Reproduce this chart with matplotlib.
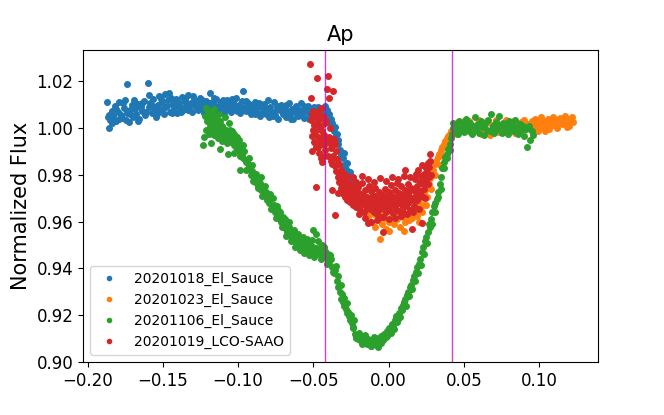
import matplotlib
matplotlib.use('Agg')
import matplotlib.pyplot as plt

# 20201018_El_Sauce
blue_x = [-0.1870, -0.1865, -0.1860, -0.1850, -0.1840, -0.1830, -0.1820, -0.1810, -0.1800, -0.1790,
          -0.1780, -0.1770, -0.1760, -0.1750, -0.1740, -0.1735, -0.1725, -0.1715, -0.1705, -0.1695,
          -0.1685, -0.1675, -0.1665, -0.1655, -0.1645, -0.1635, -0.1625, -0.1615, -0.1600, -0.1595,
          -0.1585, -0.1575, -0.1565, -0.1555, -0.1545, -0.1535, -0.1525, -0.1515, -0.1505, -0.1495,
          -0.1485, -0.1475, -0.1465, -0.1455, -0.1445, -0.1435, -0.1425, -0.1415, -0.1405, -0.1395,
          -0.1385, -0.1375, -0.1365, -0.1355, -0.1345, -0.1335, -0.1325, -0.1315, -0.1305, -0.1295,
          -0.1285, -0.1275, -0.1265, -0.1255, -0.1245, -0.1235, -0.1225, -0.1215, -0.1205, -0.1185,
          -0.1175, -0.1165, -0.1155, -0.1145, -0.1135, -0.1125, -0.1115, -0.1105, -0.1095, -0.1085,
          -0.1075, -0.1065, -0.1055, -0.1045, -0.1035, -0.1025, -0.1015, -0.1005, -0.0995, -0.0985,
          -0.0975, -0.0965, -0.0955, -0.0945, -0.0935, -0.0925, -0.0915, -0.0905, -0.0895, -0.0885,
          -0.0875, -0.0865, -0.0855, -0.0845, -0.0835, -0.0825, -0.0815, -0.0805, -0.0795, -0.0785,
          -0.0775, -0.0765, -0.0755, -0.0745, -0.0735, -0.0725, -0.0715, -0.0705, -0.0695, -0.0685,
          -0.0675, -0.0665, -0.0655, -0.0645, -0.0635, -0.0625, -0.0615, -0.0605, -0.0595, -0.0585,
          -0.0575, -0.0565, -0.0555, -0.0545, -0.0535, -0.0525, -0.0515, -0.0505, -0.0495, -0.0485,
          -0.0475, -0.0465, -0.0455, -0.0445, -0.0435, -0.0425, -0.0415, -0.0405, -0.0395, -0.0385,
          -0.0375, -0.0365, -0.0355, -0.0345, -0.0335, -0.0325, -0.0315, -0.0305, -0.0295, -0.0285,
          -0.0275, -0.0265, -0.0255, -0.0245, -0.0235, -0.0225, -0.0210, -0.0195, -0.0180, -0.0165,
          -0.0150, -0.0135, -0.0120, -0.0105, -0.0090, -0.0075, -0.0060, -0.0045, -0.0030,
          -0.1858, -0.1835, -0.1812, -0.1788, -0.1765, -0.1742, -0.1718, -0.1690, -0.1668, -0.1640,
          -0.1612, -0.1590, -0.1562, -0.1540, -0.1512, -0.1490, -0.1462, -0.1440, -0.1410, -0.1380,
          -0.1352, -0.1330, -0.1300, -0.1270, -0.1240, -0.1212, -0.1190, -0.1160, -0.1130, -0.1100,
          -0.1070, -0.1040, -0.1010, -0.0980, -0.0950, -0.0920, -0.0890, -0.0860, -0.0830, -0.0800,
          -0.0770, -0.0740, -0.0710, -0.0680, -0.0650, -0.0620, -0.0590, -0.0560, -0.0530, -0.0500,
          -0.0470, -0.0440, -0.0410, -0.0380, -0.0360, -0.0340, -0.0320, -0.0300, -0.0280, -0.0260,
          -0.0240]
blue_y = [1.0112, 1.0048, 0.9998, 1.0035, 1.0072, 1.0050, 1.0095, 1.0030, 1.0068, 1.0110,
          1.0055, 1.0042, 1.0085, 1.0120, 1.0063, 1.0186, 1.0027, 1.0075, 1.0098, 1.0045,
          1.0081, 1.0060, 1.0102, 1.0037, 1.0090, 1.0072, 1.0115, 1.0055, 1.0194, 1.0088,
          1.0106, 1.0064, 1.0125, 1.0082, 1.0046, 1.0098, 1.0135, 1.0077, 1.0110, 1.0058,
          1.0144, 1.0092, 1.0118, 1.0070, 1.0130, 1.0101, 1.0085, 1.0122, 1.0063, 1.0108,
          1.0090, 1.0132, 1.0076, 1.0115, 1.0097, 1.0140, 1.0082, 1.0105, 1.0068, 1.0120,
          1.0093, 1.0111, 1.0075, 1.0128, 1.0086, 1.0102, 1.0064, 1.0117, 1.0090, 1.0150,
          1.0083, 1.0108, 1.0070, 1.0124, 1.0095, 1.0078, 1.0112, 1.0088, 1.0065, 1.0103,
          1.0121, 1.0080, 1.0096, 1.0070, 1.0110, 1.0085, 1.0127, 1.0074, 1.0098, 1.0062,
          1.0114, 1.0160, 1.0088, 1.0071, 1.0105, 1.0083, 1.0058, 1.0097, 1.0076, 1.0110,
          1.0064, 1.0088, 1.0050, 1.0095, 1.0072, 1.0104, 1.0061, 1.0083, 1.0045, 1.0090,
          1.0068, 1.0112, 1.0057, 1.0080, 1.0040, 1.0077, 1.0098, 1.0060, 1.0085, 1.0047,
          1.0072, 1.0108, 1.0058, 1.0081, 1.0038, 1.0070, 1.0092, 1.0052, 1.0076, 1.0105,
          1.0062, 1.0044, 1.0083, 1.0067, 1.0094, 1.0055, 1.0075, 1.0060, 1.0088, 1.0050,
          1.0072, 1.0063, 1.0080, 1.0048, 1.0068, 1.0095, 1.0052, 1.0030, 1.0058, 1.0010,
          1.0022, 0.9985, 0.9960, 0.9975, 0.9932, 0.9905, 0.9890, 0.9870, 0.9842, 0.9825,
          0.9808, 0.9790, 0.9772, 0.9760, 0.9748, 0.9735, 0.9722, 0.9710, 0.9705, 0.9692,
          0.9698, 0.9685, 0.9690, 0.9680, 0.9688, 0.9676, 0.9684, 0.9672, 0.9680,
          1.0055, 1.0020, 1.0082, 1.0040, 1.0105, 1.0035, 1.0060, 1.0120, 1.0030, 1.0108,
          1.0068, 1.0140, 1.0095, 1.0060, 1.0125, 1.0085, 1.0150, 1.0065, 1.0100, 1.0070,
          1.0125, 1.0075, 1.0135, 1.0098, 1.0120, 1.0080, 1.0105, 1.0130, 1.0068, 1.0118,
          1.0090, 1.0125, 1.0095, 1.0080, 1.0115, 1.0100, 1.0060, 1.0105, 1.0085, 1.0118,
          1.0050, 1.0095, 1.0072, 1.0100, 1.0040, 1.0085, 1.0060, 1.0095, 1.0040, 1.0078,
          1.0088, 1.0070, 1.0075, 1.0040, 1.0005, 0.9950, 0.9880, 0.9895, 0.9850, 0.9810,
          0.9785]

# 20201023_El_Sauce
orange_x = [-0.0150, -0.0140, -0.0130, -0.0120, -0.0110, -0.0100, -0.0090, -0.0080, -0.0070, -0.0060,
            -0.0055, -0.0045, -0.0035, -0.0025, -0.0015, -0.0005, 0.0005, 0.0015, 0.0025, 0.0035,
            0.0045, 0.0055, 0.0065, 0.0075, 0.0085, 0.0095, 0.0105, 0.0115, 0.0125, 0.0135,
            0.0145, 0.0155, 0.0165, 0.0175, 0.0185, 0.0195, 0.0205, 0.0215, 0.0225, 0.0235,
            0.0245, 0.0255, 0.0265, 0.0275, 0.0285, 0.0295, 0.0305, 0.0315, 0.0325, 0.0335,
            0.0345, 0.0355, 0.0365, 0.0375, 0.0385, 0.0395, 0.0405, 0.0415, 0.0425, 0.0435,
            0.0445, 0.0460, 0.0475, 0.0490, 0.0505, 0.0520, 0.0535, 0.0550, 0.0565, 0.0580,
            0.0595, 0.0610, 0.0625, 0.0640, 0.0655, 0.0670, 0.0685, 0.0700, 0.0715, 0.0730,
            0.0745, 0.0760, 0.0775, 0.0790, 0.0805, 0.0820, 0.0835, 0.0850, 0.0865, 0.0880,
            0.0895, 0.0910, 0.0925, 0.0940, 0.0950, 0.0960, 0.0970, 0.0980, 0.0990, 0.1000,
            0.1010, 0.1020, 0.1030, 0.1040, 0.1050, 0.1060, 0.1070, 0.1080, 0.1090, 0.1100,
            0.1110, 0.1120, 0.1130, 0.1140, 0.1150, 0.1160, 0.1170, 0.1180, 0.1190, 0.1200,
            0.1210, 0.1220, 0.1225,
            -0.0100, -0.0050, 0.0000, 0.0050, 0.0100, 0.0150, 0.0200, 0.0220, 0.0250, 0.0280,
            0.0310, 0.0340, 0.0360, 0.0390, 0.0420, 0.0455, 0.0500, 0.0545, 0.0600, 0.0660,
            0.0720, 0.0780, 0.0840, 0.0900, 0.0975, 0.1015, 0.1065, 0.1105, 0.1145, 0.1185]
orange_y = [0.9665, 0.9620, 0.9645, 0.9598, 0.9670, 0.9630, 0.9575, 0.9655, 0.9610, 0.9526,
            0.9640, 0.9588, 0.9660, 0.9615, 0.9570, 0.9648, 0.9600, 0.9675, 0.9625, 0.9590,
            0.9660, 0.9612, 0.9638, 0.9578, 0.9655, 0.9620, 0.9598, 0.9670, 0.9632, 0.9605,
            0.9650, 0.9615, 0.9642, 0.9660, 0.9625, 0.9685, 0.9650, 0.9700, 0.9672, 0.9720,
            0.9740, 0.9705, 0.9760, 0.9785, 0.9800, 0.9820, 0.9845, 0.9860, 0.9875, 0.9890,
            0.9905, 0.9918, 0.9930, 0.9945, 0.9958, 0.9965, 0.9975, 0.9988, 0.9995, 1.0012,
            0.9990, 1.0025, 1.0005, 0.9985, 1.0018, 0.9998, 1.0030, 0.9980, 1.0010, 0.9992,
            1.0022, 0.9975, 1.0005, 0.9988, 1.0028, 0.9970, 1.0012, 0.9995, 1.0035, 0.9982,
            1.0008, 0.9990, 1.0020, 0.9978, 1.0015, 0.9998, 1.0030, 0.9985, 1.0010, 1.0024,
            0.9992, 1.0005, 1.0018, 0.9995, 1.0030, 1.0008, 1.0040, 1.0015, 0.9985, 1.0022,
            1.0045, 1.0005, 1.0030, 0.9988, 1.0018, 1.0038, 1.0010, 1.0028, 1.0048, 1.0012,
            1.0035, 1.0000, 1.0025, 1.0042, 1.0015, 1.0032, 1.0050, 1.0020, 1.0040, 1.0010,
            1.0035, 1.0045, 1.0025,
            0.9685, 0.9700, 0.9560, 0.9690, 0.9560, 0.9700, 0.9600, 0.9640, 0.9670, 0.9740,
            0.9800, 0.9840, 0.9880, 0.9920, 0.9970, 0.9975, 1.0030, 0.9990, 1.0035, 0.9985,
            1.0020, 1.0035, 0.9980, 1.0032, 0.9995, 1.0020, 0.9995, 1.0040, 1.0022, 1.0002]

# 20201106_El_Sauce
green_x = [-0.1230, -0.1225, -0.1220, -0.1215, -0.1210, -0.1205, -0.1200, -0.1195, -0.1190, -0.1185,
           -0.1180, -0.1175, -0.1170, -0.1165, -0.1160, -0.1155, -0.1150, -0.1145, -0.1140, -0.1135,
           -0.1130, -0.1125, -0.1120, -0.1115, -0.1110, -0.1105, -0.1100, -0.1095, -0.1090, -0.1085,
           -0.1080, -0.1075, -0.1070, -0.1065, -0.1060, -0.1055, -0.1050, -0.1045, -0.1040, -0.1035,
           -0.1030, -0.1025, -0.1020, -0.1015, -0.1010, -0.1005, -0.1000, -0.0995, -0.0985, -0.0985,
           -0.0975, -0.0965, -0.0960, -0.0950, -0.0940, -0.0935, -0.0925, -0.0915, -0.0905, -0.0895,
           -0.0885, -0.0875, -0.0865, -0.0855, -0.0845, -0.0835, -0.0825, -0.0815, -0.0805, -0.0795,
           -0.0785, -0.0775, -0.0765, -0.0755, -0.0745, -0.0735, -0.0725, -0.0715, -0.0705, -0.0695,
           -0.0685, -0.0675, -0.0665, -0.0655, -0.0645, -0.0635, -0.0625, -0.0615, -0.0605, -0.0595,
           -0.0585, -0.0575, -0.0565, -0.0555, -0.0545, -0.0535, -0.0525, -0.0515, -0.0505, -0.0500,
           -0.0490, -0.0480, -0.0475, -0.0465, -0.0455, -0.0445, -0.0435, -0.0425, -0.0415, -0.0405,
           -0.0395, -0.0385, -0.0375, -0.0365, -0.0355, -0.0345, -0.0335, -0.0325, -0.0315, -0.0305,
           -0.0295, -0.0285, -0.0275, -0.0265, -0.0255, -0.0245, -0.0235, -0.0225, -0.0215, -0.0205,
           -0.0195, -0.0185, -0.0175, -0.0165, -0.0155, -0.0145, -0.0135, -0.0125, -0.0115, -0.0105,
           -0.0095, -0.0085, -0.0075, -0.0068, -0.0060, -0.0050, -0.0040, -0.0030, -0.0020, -0.0010,
           0.0000, 0.0010, 0.0020, 0.0030, 0.0040, 0.0050, 0.0060, 0.0070, 0.0080, 0.0090,
           0.0100, 0.0110, 0.0120, 0.0130, 0.0140, 0.0150, 0.0160, 0.0170, 0.0180, 0.0190,
           0.0200, 0.0210, 0.0220, 0.0230, 0.0240, 0.0250, 0.0258, 0.0265, 0.0272, 0.0280,
           0.0290, 0.0300, 0.0310, 0.0318, 0.0330, 0.0340, 0.0350, 0.0357, 0.0365, 0.0375,
           0.0385, 0.0395, 0.0405, 0.0415, 0.0420, 0.0425, 0.0430, 0.0440, 0.0450, 0.0460,
           0.0470, 0.0480, 0.0490, 0.0500, 0.0510, 0.0520, 0.0530, 0.0540, 0.0550, 0.0560,
           0.0570, 0.0580, 0.0590, 0.0600, 0.0610, 0.0620, 0.0630, 0.0640, 0.0650, 0.0660,
           0.0670, 0.0680, 0.0690, 0.0700, 0.0710, 0.0720, 0.0730, 0.0740, 0.0750, 0.0760,
           0.0770, 0.0780, 0.0790, 0.0800, 0.0810, 0.0820, 0.0830, 0.0840, 0.0850, 0.0860,
           0.0870, 0.0880, 0.0890, 0.0900, 0.0910, 0.0920, 0.0930, 0.0940, 0.0950, 0.0960,
           -0.1180, -0.1160, -0.1120, -0.1060, -0.1030, -0.0990, -0.0970, -0.0950, -0.0930, -0.0910,
           -0.0900, -0.0880, -0.0870, -0.0850, -0.0840, -0.0820, -0.0810, -0.0790, -0.0780, -0.0770,
           -0.0750, -0.0740, -0.0720, -0.0710, -0.0690, -0.0680, -0.0660, -0.0650, -0.0630, -0.0620,
           -0.0600, -0.0590, -0.0570, -0.0560, -0.0540, -0.0530, -0.0510, -0.0495, -0.0470, -0.0450,
           -0.0430, -0.0410, -0.0390, -0.0370, -0.0350, -0.0340, -0.0320, -0.0310, -0.0300, -0.0280,
           -0.0270, -0.0250, -0.0240, -0.0230, -0.0220, -0.0200, -0.0180, -0.0160, -0.0140, -0.0120,
           -0.0100, -0.0080, -0.0050, -0.0030, -0.0010, 0.0015, 0.0035, 0.0055, 0.0075, 0.0095,
           0.0115, 0.0135, 0.0155, 0.0175, 0.0195, 0.0215, 0.0235, 0.0255, 0.0285, 0.0305,
           0.0325, 0.0345, 0.0370, 0.0390, 0.0410]
green_y = [0.9928, 0.9962, 1.0050, 1.0084, 0.9990, 1.0030, 1.0065, 0.9975, 1.0040, 1.0010,
           1.0072, 0.9985, 1.0025, 1.0055, 0.9968, 1.0005, 1.0040, 0.9980, 1.0015, 0.9955,
           1.0060, 0.9990, 1.0030, 0.9970, 1.0008, 0.9945, 1.0000, 0.9975, 1.0045, 0.9960,
           0.9990, 0.9935, 0.9888, 0.9975, 0.9950, 0.9990, 0.9962, 0.9938, 0.9985, 0.9955,
           0.9928, 0.9975, 0.9945, 0.9920, 0.9960, 0.9935, 0.9905, 0.9950, 0.9914, 0.9820,
           0.9890, 0.9870, 0.9900, 0.9855, 0.9854, 0.9825, 0.9838, 0.9800, 0.9815, 0.9790,
           0.9768, 0.9786, 0.9750, 0.9765, 0.9735, 0.9748, 0.9712, 0.9725, 0.9700, 0.9680,
           0.9695, 0.9660, 0.9672, 0.9640, 0.9630, 0.9648, 0.9612, 0.9600, 0.9618, 0.9585,
           0.9570, 0.9556, 0.9575, 0.9540, 0.9552, 0.9525, 0.9538, 0.9510, 0.9528, 0.9502,
           0.9518, 0.9495, 0.9512, 0.9488, 0.9505, 0.9478, 0.9498, 0.9470, 0.9564, 0.9492,
           0.9475, 0.9545, 0.9488, 0.9462, 0.9480, 0.9498, 0.9458, 0.9472, 0.9445, 0.9460,
           0.9428, 0.9440, 0.9405, 0.9380, 0.9392, 0.9345, 0.9320, 0.9298, 0.9270, 0.9255,
           0.9240, 0.9225, 0.9210, 0.9195, 0.9180, 0.9165, 0.9150, 0.9120, 0.9105, 0.9098,
           0.9112, 0.9090, 0.9102, 0.9085, 0.9095, 0.9078, 0.9098, 0.9082, 0.9070, 0.9088,
           0.9075, 0.9100, 0.9072, 0.9063, 0.9090, 0.9110, 0.9095, 0.9120, 0.9108, 0.9130,
           0.9145, 0.9135, 0.9160, 0.9150, 0.9178, 0.9195, 0.9185, 0.9210, 0.9232, 0.9220,
           0.9255, 0.9268, 0.9285, 0.9300, 0.9318, 0.9330, 0.9352, 0.9368, 0.9385, 0.9405,
           0.9420, 0.9440, 0.9468, 0.9490, 0.9515, 0.9535, 0.9555, 0.9590, 0.9575, 0.9610,
           0.9640, 0.9665, 0.9680, 0.9695, 0.9725, 0.9760, 0.9790, 0.9830, 0.9855, 0.9875,
           0.9890, 0.9912, 0.9930, 0.9955, 0.9975, 1.0000, 1.0020, 0.9990, 1.0010, 0.9975,
           1.0030, 0.9995, 1.0015, 0.9982, 1.0040, 1.0005, 0.9988, 1.0022, 0.9975, 1.0010,
           1.0045, 0.9995, 1.0018, 0.9980, 1.0030, 1.0005, 0.9970, 1.0015, 0.9992, 1.0035,
           0.9985, 1.0060, 1.0010, 0.9978, 1.0025, 0.9995, 1.0050, 1.0008, 0.9980, 1.0020,
           0.9990, 1.0012, 0.9972, 1.0028, 0.9998, 1.0015, 0.9985, 1.0032, 1.0005, 0.9975,
           1.0018, 0.9990, 1.0010, 0.9965, 0.9995, 0.9918, 1.0008, 0.9947, 0.9985, 0.9970,
           0.9935, 1.0080, 0.9912, 1.0020, 0.9895, 0.9880, 0.9925, 0.9822, 0.9870, 0.9842,
           0.9775, 0.9805, 0.9745, 0.9790, 0.9710, 0.9750, 0.9690, 0.9718, 0.9655, 0.9700,
           0.9615, 0.9668, 0.9640, 0.9575, 0.9610, 0.9540, 0.9598, 0.9515, 0.9562, 0.9490,
           0.9545, 0.9480, 0.9535, 0.9465, 0.9525, 0.9455, 0.9520, 0.9450, 0.9515, 0.9440,
           0.9490, 0.9420, 0.9455, 0.9385, 0.9410, 0.9365, 0.9330, 0.9290, 0.9275, 0.9250,
           0.9215, 0.9200, 0.9145, 0.9180, 0.9100, 0.9125, 0.9075, 0.9115, 0.9095, 0.9070,
           0.9108, 0.9085, 0.9080, 0.9100, 0.9110, 0.9125, 0.9140, 0.9170, 0.9190, 0.9245,
           0.9240, 0.9280, 0.9310, 0.9345, 0.9380, 0.9415, 0.9460, 0.9510, 0.9590, 0.9640,
           0.9705, 0.9740, 0.9830, 0.9870, 0.9905]

# 20201019_LCO-SAAO
red_x = [-0.0520, -0.0518, -0.0515, -0.0512, -0.0510, -0.0505, -0.0500, -0.0498, -0.0495, -0.0490,
         -0.0487, -0.0483, -0.0480, -0.0478, -0.0475, -0.0472, -0.0468, -0.0465, -0.0462, -0.0458,
         -0.0455, -0.0450, -0.0447, -0.0443, -0.0440, -0.0437, -0.0433, -0.0430, -0.0425, -0.0420,
         -0.0415, -0.0410, -0.0405, -0.0400, -0.0396, -0.0392, -0.0388, -0.0384, -0.0380, -0.0375,
         -0.0372, -0.0368, -0.0364, -0.0360, -0.0355, -0.0352, -0.0348, -0.0344, -0.0340, -0.0336,
         -0.0332, -0.0328, -0.0324, -0.0320, -0.0316, -0.0312, -0.0308, -0.0304, -0.0300, -0.0296,
         -0.0292, -0.0288, -0.0284, -0.0280, -0.0275, -0.0270, -0.0265, -0.0260, -0.0255, -0.0250,
         -0.0245, -0.0240, -0.0235, -0.0230, -0.0225, -0.0220, -0.0215, -0.0210, -0.0205, -0.0200,
         -0.0195, -0.0190, -0.0185, -0.0180, -0.0175, -0.0170, -0.0165, -0.0160, -0.0155, -0.0150,
         -0.0145, -0.0140, -0.0135, -0.0130, -0.0125, -0.0120, -0.0115, -0.0110, -0.0105, -0.0100,
         -0.0095, -0.0090, -0.0085, -0.0080, -0.0075, -0.0070, -0.0065, -0.0060, -0.0055, -0.0050,
         -0.0045, -0.0040, -0.0035, -0.0030, -0.0025, -0.0020, -0.0015, -0.0010, -0.0005, 0.0000,
         0.0005, 0.0010, 0.0015, 0.0020, 0.0025, 0.0030, 0.0035, 0.0040, 0.0045, 0.0050,
         0.0055, 0.0060, 0.0065, 0.0070, 0.0075, 0.0080, 0.0085, 0.0090, 0.0095, 0.0100,
         0.0110, 0.0105, 0.0115, 0.0120, 0.0125, 0.0130, 0.0135, 0.0140, 0.0145, 0.0150,
         0.0157, 0.0160, 0.0165, 0.0170, 0.0175, 0.0180, 0.0185, 0.0190, 0.0197, 0.0200,
         0.0205, 0.0210, 0.0215, 0.0220, 0.0223, 0.0228, 0.0232, 0.0236, 0.0240, 0.0245,
         0.0250, 0.0255, 0.0260, 0.0265, 0.0270, 0.0277, 0.0280,
         -0.0508, -0.0493, -0.0470, -0.0452, -0.0445, -0.0428, -0.0418, -0.0398, -0.0378, -0.0358,
         -0.0338, -0.0318, -0.0298, -0.0278, -0.0258, -0.0238, -0.0218, -0.0198, -0.0178, -0.0158,
         -0.0138, -0.0118, -0.0098, -0.0078, -0.0058, -0.0038, -0.0018, 0.0002, 0.0022, 0.0042,
         0.0062, 0.0082, 0.0102, 0.0122, 0.0142, 0.0162, 0.0182, 0.0202, 0.0222, 0.0242,
         0.0262, 0.0272]
red_y = [1.0275, 1.0126, 1.0035, 0.9965, 1.0060, 0.9990, 1.0072, 0.9942, 1.0012, 0.9975,
         1.0045, 0.9918, 0.9747, 1.0020, 1.0215, 0.9960, 1.0068, 0.9895, 0.9995, 1.0040,
         0.9940, 1.0010, 0.9870, 0.9854, 0.9985, 1.0052, 0.9925, 0.9968, 1.0020, 0.9905,
         0.9950, 1.0165, 1.0220, 0.9882, 1.0130, 0.9935, 1.0000, 0.9860, 0.9915, 0.9735,
         1.0156, 0.9880, 0.9952, 0.9838, 0.9628, 0.9900, 0.9815, 0.9868, 0.9790, 0.9720,
         0.9845, 0.9770, 0.9810, 0.9742, 0.9790, 0.9755, 0.9720, 0.9775, 0.9738, 0.9790,
         0.9705, 0.9755, 0.9725, 0.9768, 0.9690, 0.9740, 0.9712, 0.9760, 0.9685, 0.9728,
         0.9700, 0.9745, 0.9670, 0.9718, 0.9690, 0.9735, 0.9660, 0.9705, 0.9748, 0.9680,
         0.9722, 0.9650, 0.9700, 0.9765, 0.9675, 0.9715, 0.9640, 0.9690, 0.9735, 0.9665,
         0.9705, 0.9594, 0.9680, 0.9750, 0.9655, 0.9698, 0.9730, 0.9668, 0.9712, 0.9640,
         0.9688, 0.9745, 0.9660, 0.9705, 0.9630, 0.9685, 0.9725, 0.9655, 0.9700, 0.9620,
         0.9675, 0.9556, 0.9715, 0.9660, 0.9740, 0.9690, 0.9640, 0.9705, 0.9668, 0.9728,
         0.9650, 0.9695, 0.9755, 0.9672, 0.9710, 0.9638, 0.9690, 0.9735, 0.9662, 0.9705,
         0.9765, 0.9680, 0.9722, 0.9645, 0.9698, 0.9750, 0.9670, 0.9715, 0.9640, 0.9690,
         0.9820, 0.9735, 0.9665, 0.9710, 0.9760, 0.9680, 0.9725, 0.9648, 0.9700, 0.9745,
         0.9570, 0.9690, 0.9735, 0.9665, 0.9780, 0.9715, 0.9690, 0.9750, 0.9820, 0.9705,
         0.9770, 0.9732, 0.9795, 0.9710, 0.9594, 0.9760, 0.9805, 0.9740, 0.9785, 0.9830,
         0.9765, 0.9810, 0.9850, 0.9790, 0.9835, 0.9890, 0.9800,
         0.9900, 1.0050, 0.9920, 1.0085, 0.9960, 0.9880, 1.0030, 0.9960, 0.9845, 0.9930,
         0.9850, 0.9820, 0.9805, 0.9795, 0.9720, 0.9790, 0.9770, 0.9630, 0.9795, 0.9615,
         0.9780, 0.9600, 0.9770, 0.9605, 0.9785, 0.9620, 0.9775, 0.9610, 0.9790, 0.9615,
         0.9780, 0.9625, 0.9795, 0.9630, 0.9790, 0.9640, 0.9805, 0.9655, 0.9840, 0.9700,
         0.9760, 0.9860]

series = [
    (blue_x, blue_y, '20201018_El_Sauce'),
    (orange_x, orange_y, '20201023_El_Sauce'),
    (green_x, green_y, '20201106_El_Sauce'),
    (red_x, red_y, '20201019_LCO-SAAO'),
]

# grenser for transitten
t_start = -0.0425
t_end = 0.0422

fig = plt.figure(figsize=(6.64, 4.15), dpi=100)
ax = fig.add_subplot(111)
fig.subplots_adjust(left=0.125, right=0.9, top=0.88, bottom=0.128)

for x, y, navn in series:
    ax.plot(x, y, 'o', markersize=4, label=navn)

ax.axvline(t_start, color='m', alpha=0.75, lw=1)
ax.axvline(t_end, color='m', alpha=0.75, lw=1)

ax.set_xlim(-0.203, 0.1387)
ax.set_ylim(0.900, 1.0334)
ax.set_ylabel('Normalized Flux', fontsize=15)
ax.set_title('Ap', fontsize=15)
ax.tick_params(labelsize=12)
ax.legend(loc='lower left', fontsize=10, markerscale=0.75)

fig.savefig('out.png', dpi=100)
